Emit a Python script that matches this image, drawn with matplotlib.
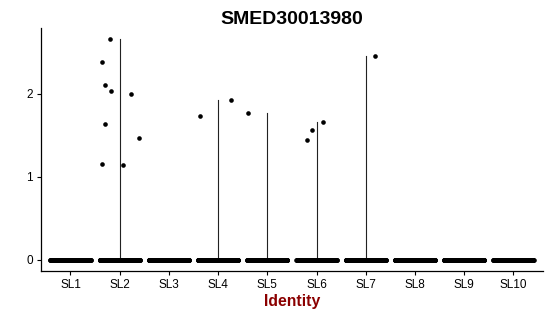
import numpy as np
import matplotlib.pyplot as plt

plt.rcParams['font.family'] = ['Liberation Sans', 'DejaVu Sans']

groups = ['SL1', 'SL2', 'SL3', 'SL4', 'SL5', 'SL6', 'SL7', 'SL8', 'SL9', 'SL10']
# non-zero expression values per identity
nonzero = {
    'SL2': [2.66, 2.38, 2.11, 2.04, 2.00, 1.64, 1.47, 1.16, 1.14],
    'SL4': [1.73, 1.93],
    'SL5': [1.77],
    'SL6': [1.44, 1.57, 1.66],
    'SL7': [2.46],
}
# cells with zero expression (estimated)
zero_counts = [250, 250, 250, 250, 250, 250, 250, 250, 250, 220]

# horizontal jitter used for the non-zero points
jitter = {
    'SL2': [-0.20, -0.35, -0.29, -0.18, 0.22, -0.30, 0.40, -0.35, 0.06],
    'SL4': [-0.37, 0.26],
    'SL5': [-0.39],
    'SL6': [-0.19, -0.10, 0.14],
    'SL7': [0.19],
}

fig = plt.figure(figsize=(5.5, 3.16), dpi=100)
ax = fig.add_axes([0.0745, 0.1424, 0.9125, 0.7686])

for i, g in enumerate(groups):
    x = i + 1
    # zeros, spread over the jitter width
    xs = x + np.linspace(-0.41, 0.41, zero_counts[i])
    ax.scatter(xs, np.zeros_like(xs), s=11, color='black', linewidths=0, zorder=3)
    if g in nonzero:
        vals = nonzero[g]
        # thin violin: collapses to a line from 0 to max
        ax.plot([x, x], [0, max(vals)], color='#222222', lw=0.8, zorder=2)
        ax.scatter(x + np.array(jitter[g]), vals, s=11, color='black',
                   linewidths=0, zorder=3)

ymax = max(max(v) for v in nonzero.values())
pad = ymax * 0.05
ax.set_ylim(-pad, ymax + pad)
ax.set_xlim(0.4, len(groups) + 0.6)
ax.set_xticks(range(1, len(groups) + 1))
ax.set_xticklabels(groups)
ax.set_yticks([0, 1, 2])

for s in ['top', 'right']:
    ax.spines[s].set_visible(False)
for s in ['left', 'bottom']:
    ax.spines[s].set_linewidth(0.9)
    ax.spines[s].set_color('black')
ax.tick_params(axis='both', length=3, width=0.8, labelsize=8.5, colors='black', pad=3)

ax.set_title('SMED30013980', fontsize=14, fontweight='bold', pad=3)
ax.set_xlabel('Identity', fontsize=11.3, fontweight='bold', color='#8B0000', labelpad=2)

fig.savefig('out.png', dpi=100)
